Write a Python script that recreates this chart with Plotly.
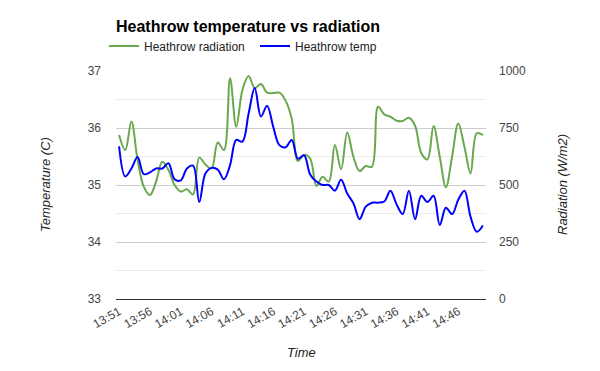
import plotly.graph_objects as go

# ---- data ----
times = ["13:%02d" % m for m in range(51, 60)] + ["14:%02d" % m for m in range(0, 51)]

temps = [35.68, 35.15, 35.29, 35.49, 35.19, 35.22, 35.29, 35.29, 35.38, 35.10,
         35.08, 35.29, 35.34, 34.70, 35.20, 35.30, 35.27, 35.10, 35.35, 35.79,
         35.76, 36.25, 36.70, 36.20, 36.39, 36.02, 35.70, 35.66, 35.79, 35.46,
         35.52, 35.18, 35.06, 35.00, 35.00, 34.90, 35.09, 34.85, 34.68, 34.40,
         34.62, 34.69, 34.69, 34.71, 34.90, 34.66, 34.49, 34.90, 34.40, 34.81,
         34.70, 34.81, 34.30, 34.60, 34.49, 34.74, 34.90, 34.44, 34.18, 34.29]

radiation = [719, 653, 778, 610, 493, 456, 515, 602, 566, 500,
             471, 481, 459, 620, 590, 573, 686, 653, 968, 756,
             917, 978, 925, 943, 905, 903, 905, 870, 790, 605,
             632, 615, 496, 536, 515, 675, 569, 730, 624, 561,
             583, 580, 843, 810, 800, 782, 781, 795, 760, 640,
             612, 759, 624, 490, 624, 770, 668, 551, 727, 719]

tick_labels = times[::5]
temp_ticks = [33, 34, 35, 36, 37]
rad_ticks = [0, 250, 500, 750, 1000]

FONT = "Liberation Sans, Arial, sans-serif"

fig = go.Figure()
fig.add_trace(go.Scatter(
    x=times, y=radiation, name="Heathrow radiation", mode="lines",
    line=dict(color="#6aa84f", width=2, shape="spline"), yaxis="y"))
fig.add_trace(go.Scatter(
    x=times, y=temps, name="Heathrow temp", mode="lines",
    line=dict(color="#0000ff", width=2, shape="spline"), yaxis="y2"))

# the page body has an 8px default margin; compensate for it
OFF = 8
W, H = 600 - OFF, 371 - OFF
L, R, T, B = 116 - OFF, 114, 71 - OFF, 72
PW, PH = W - L - R, H - T - B

fig.update_layout(
    width=W, height=H,
    margin=dict(l=L, r=R, t=T, b=B, pad=0, autoexpand=False),
    paper_bgcolor="white", plot_bgcolor="white",
    font=dict(family=FONT, size=12, color="#444"),
    title=dict(text="<b>Heathrow temperature vs radiation</b>",
               font=dict(family=FONT, size=16, color="#000"),
               x=(116 - OFF) / W, xanchor="left", xref="container",
               y=1 - (26 - OFF) / H, yanchor="middle", yref="container"),
    showlegend=True,
    legend=dict(orientation="h", xref="container", yref="container",
                x=(104 - OFF) / W, xanchor="left",
                y=1 - (46 - OFF) / H, yanchor="middle",
                font=dict(family=FONT, size=12, color="#222"),
                entrywidth=106, bgcolor="rgba(0,0,0,0)", borderwidth=0,
                itemwidth=30),
    xaxis=dict(type="category", categoryorder="array", categoryarray=times,
               range=[-0.5, len(times) - 0.5], automargin=False,
               tickmode="array", tickvals=tick_labels, ticktext=tick_labels,
               tickangle=-30, showgrid=False, zeroline=False,
               showline=True, linecolor="#333", linewidth=1,
               ticks="", tickfont=dict(size=12, color="#444")),
    yaxis=dict(side="right", range=[0, 1000], tickmode="array", automargin=False,
               tickvals=rad_ticks, ticktext=[str(v) for v in rad_ticks],
               showgrid=True, gridcolor="#cccccc", gridwidth=1,
               minor=dict(tickmode="linear", tick0=0, dtick=125, showgrid=True,
                          gridcolor="#ebebeb", gridwidth=1),
               zeroline=False, showline=False, ticks="",
               ticklabelstandoff=12,
               tickfont=dict(size=12, color="#444")),
    yaxis2=dict(overlaying="y", side="left", range=[33, 37], tickmode="array",
                automargin=False,
                tickvals=temp_ticks, ticktext=[str(v) for v in temp_ticks],
                showgrid=False, zeroline=False, showline=False, ticks="",
                ticklabelstandoff=14,
                tickfont=dict(size=12, color="#444")),
    annotations=[
        dict(text="<i>Temperature (C)</i>", xref="paper", yref="paper",
             x=(45 - 116) / PW, y=0.5, textangle=-90, showarrow=False,
             xanchor="center", yanchor="middle",
             font=dict(family=FONT, size=13, color="#222")),
        dict(text="<i>Radiation (W/m2)</i>", xref="paper", yref="paper",
             x=(562 - 116) / PW, y=0.5, textangle=-90, showarrow=False,
             xanchor="center", yanchor="middle",
             font=dict(family=FONT, size=13, color="#222")),
        dict(text="<i>Time</i>", xref="paper", yref="paper",
             x=0.5, y=-(352 - 299) / PH, showarrow=False,
             xanchor="center", yanchor="middle",
             font=dict(family=FONT, size=13, color="#222")),
    ],
)

fig.write_html("out.html")
